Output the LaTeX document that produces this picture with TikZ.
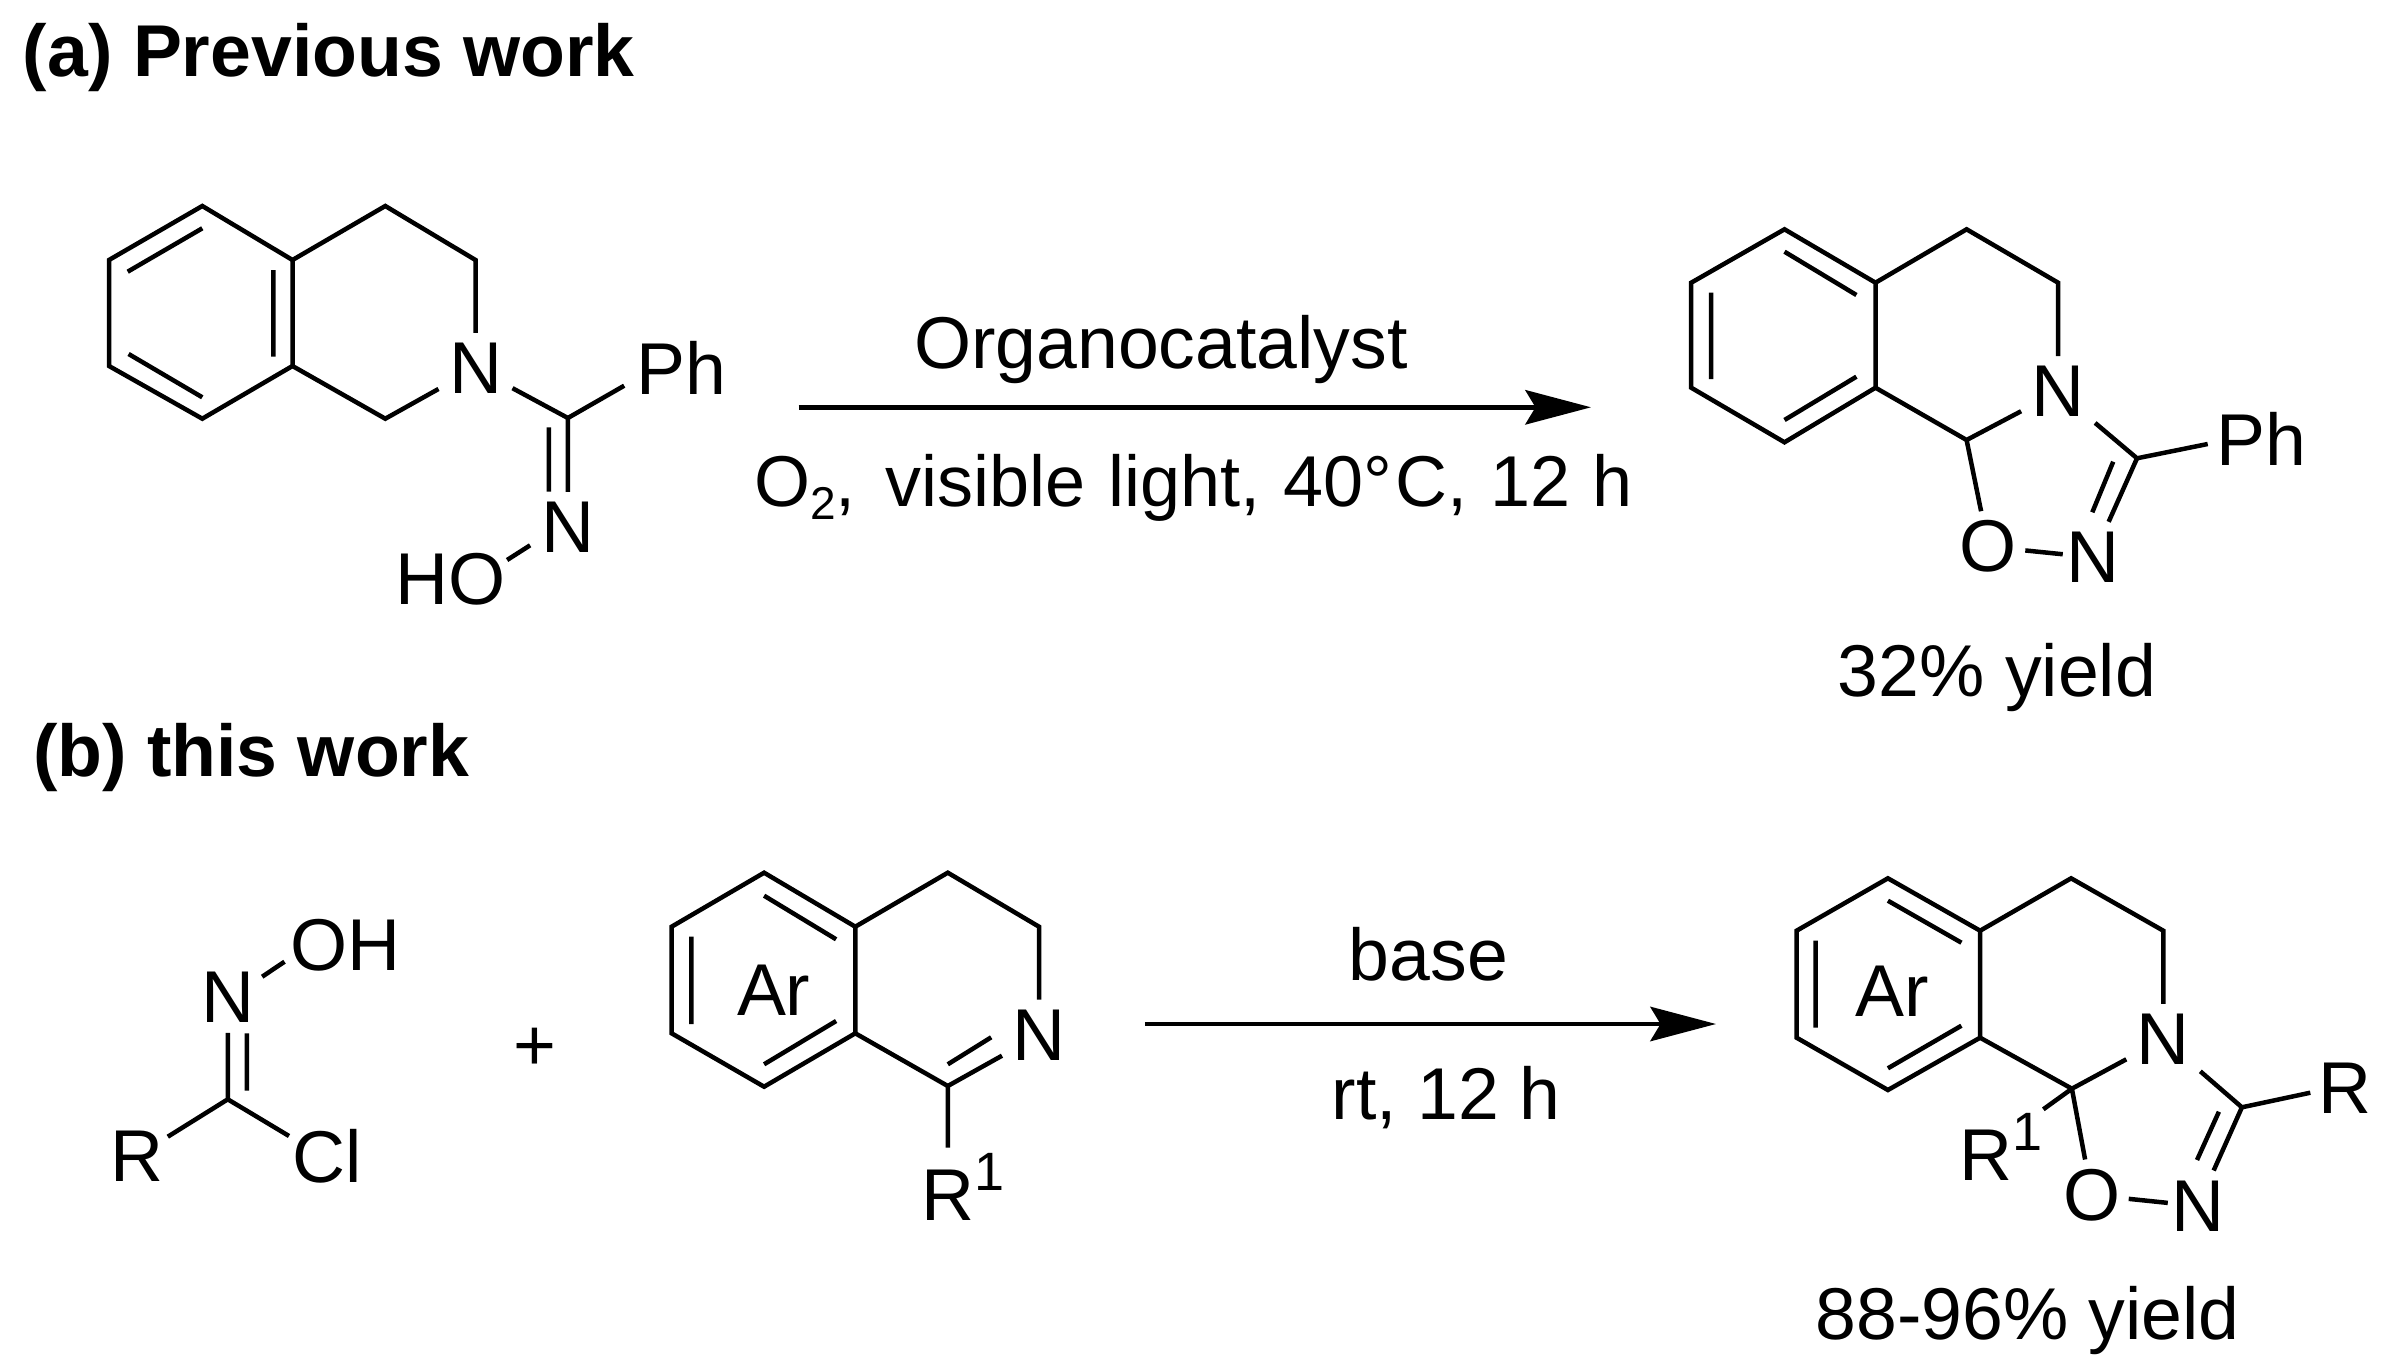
\documentclass[tikz,border=0pt]{standalone}
\usepackage{fontspec}
\setmainfont{Liberation Sans}
\usetikzlibrary{arrows.meta}
\tikzset{
  x=0.5pt,y=-0.5pt,
  bond/.style={line width=2.25pt,line join=miter,line cap=butt},
  atom/.style={inner sep=0pt,outer sep=0pt,minimum width=37pt,minimum height=35.5pt,font=\fontsize{36.7}{40}\selectfont},
  lab/.style={inner sep=0pt,outer sep=0pt,font=\fontsize{36.7}{40}\selectfont},
  head/.style={inner sep=0pt,outer sep=0pt,anchor=base west,font=\fontsize{36.7}{40}\bfseries\selectfont},
  rxn/.style={line width=2.35pt,-{Stealth[length=33pt,width=17.5pt,inset=5.3pt,line width=0pt]}},
}
\newcommand{\supone}{\raisebox{15pt}{\fontsize{27}{30}\selectfont 1}}
\begin{document}
\begin{tikzpicture}
\useasboundingbox (0,0) rectangle (2383,1370);
\fill[white] (0,0) rectangle (2383,1370);
% headings
\node[head] (ha) at (23,76.5) {(a) Previous work};
\node[head] (hb) at (33,776.7) {(b) this work};

% ---------- molecule 1
\coordinate (a1) at (202.3,206);
\coordinate (a2) at (109,260);
\coordinate (a3) at (109,366);
\coordinate (a4) at (202.3,418.7);
\coordinate (a5) at (292.5,366);
\coordinate (a6) at (292.5,260);
\coordinate (a7) at (385.3,206);
\coordinate (a8) at (475.5,260);
\coordinate (a9) at (385.3,418.7);
\coordinate (a10) at (567.9,418);
\node[atom] (an) at (475.5,368.3) {N};
\node[atom] (ann) at (567.9,527.3) {N};
\node[lab] (aph) at (681,368.3) {Ph};
\node[lab] (aho) at (450.8,579.3) {HO};
\coordinate (aphe) at (624.2,385.7);
\coordinate (ao1) at (530.1,545.3);
\coordinate (ao2) at (507.1,560);
\draw[bond] (a1)--(a2)--(a3)--(a4)--(a5)--(a6)--cycle;
\draw[bond] (a5)--(a9)--(an) (an)--(a8)--(a7)--(a6);
\draw[bond] (an)--(a10)--(aphe) (a10)--(ann) (ao1)--(ao2);
\coordinate (ai1) at (202.3,228.3); \coordinate (ai2) at (127.7,271.7);
\coordinate (ai3) at (273.4,270); \coordinate (ai4) at (273.4,356.7);
\coordinate (ai5) at (128.6,354); \coordinate (ai6) at (202.3,397.3);
\coordinate (ai7) at (548.8,427.3); \coordinate (ai8) at (548.8,491.7);
\draw[bond] (ai1)--(ai2) (ai3)--(ai4) (ai5)--(ai6) (ai7)--(ai8);

% ---------- arrow 1
\coordinate (r1s) at (798.7,407.3);
\coordinate (r1e) at (1590.9,407.3);
\draw[rxn] (r1s)--(r1e);
\node[lab,anchor=base] (t1) at (1161,368.3) {Organocatalyst};
\node[lab,anchor=base west,font=\fontsize{36}{40}\selectfont] (t2) at (754,506.7) {O\raisebox{-6.3pt}{\fontsize{23}{26}\selectfont 2}, \hspace{5pt}visible \hspace{1.5pt}light, \hspace{1.5pt}40°\hspace{1.5pt}C, \hspace{1.5pt}12 \hspace{1pt}h};

% ---------- molecule 2
\coordinate (b1) at (1784.5,229.3);
\coordinate (b2) at (1691.2,282.7);
\coordinate (b3) at (1691.2,387.7);
\coordinate (b4) at (1784.5,442.3);
\coordinate (b5) at (1875.5,387.7);
\coordinate (b6) at (1875.5,282.7);
\coordinate (b7) at (1966.6,229.3);
\coordinate (b8) at (2058.1,282.7);
\coordinate (b9) at (1966.6,440);
\coordinate (b10) at (2137,458.3);
\node[atom] (bn) at (2058.1,391.7) {N};
\node[atom] (bo) at (1988.3,546.7) {O};
\node[atom] (bnn) at (2092.8,557.3) {N};
\node[lab] (bph) at (2261,439.3) {Ph};
\coordinate (bphe) at (2207.7,444);
\draw[bond] (b1)--(b2)--(b3)--(b4)--(b5)--(b6)--cycle;
\draw[bond] (b5)--(b9)--(bn) (bn)--(b8)--(b7)--(b6);
\draw[bond] (b9)--(bo) (bn)--(b10)--(bphe) (b10)--(bnn);
\draw[bond,shorten >=-3.5pt] (bo)--(bnn);
\coordinate (bi1) at (1784.5,251.7); \coordinate (bi2) at (1856.4,295);
\coordinate (bi3) at (1711.2,292.7); \coordinate (bi4) at (1711.2,379);
\coordinate (bi5) at (1784.5,420); \coordinate (bi6) at (1856.4,376.7);
\coordinate (bi7) at (2113.2,461.7); \coordinate (bi8) at (2092.3,512.3);
\draw[bond] (bi1)--(bi2) (bi3)--(bi4) (bi5)--(bi6) (bi7)--(bi8);
\node[lab,anchor=base] (y1) at (1997,696) {32\% yield};

% ---------- molecule 3 (hydroximoyl chloride)
\coordinate (c1) at (227.8,1099.3);
\node[atom] (cn) at (227.8,997.3) {N};
\node[lab] (coh) at (345.7,945) {OH};
\node[lab] (cr) at (136.6,1156) {R};
\node[lab] (ccl) at (327.2,1156) {Cl};
\coordinate (co1) at (284.5,961.7); \coordinate (co2) at (262.2,976.7);
\coordinate (cre) at (167.8,1136.7); \coordinate (ccle) at (289,1136);
\coordinate (ci1) at (246.9,1033.3); \coordinate (ci2) at (246.9,1090.7);
\draw[bond] (c1)--(cn) (co1)--(co2) (cre)--(c1)--(ccle) (ci1)--(ci2);
\node[lab] (plus) at (534.5,1049.6) {+};

% ---------- molecule 4 (imine)
\coordinate (d1) at (764.1,872.7);
\coordinate (d2) at (671.6,926.7);
\coordinate (d3) at (671.6,1033.3);
\coordinate (d4) at (764.1,1086.7);
\coordinate (d5) at (855.3,1033.3);
\coordinate (d6) at (855.3,926.7);
\coordinate (d7) at (947.8,872.7);
\coordinate (d8) at (1039,926.7);
\coordinate (d9) at (947.8,1086);
\node[atom] (dn) at (1039,1035) {N};
\node[lab] (dar) at (773.7,990) {Ar};
\node[lab,anchor=base west] (dr) at (921.7,1220) {R\supone};
\coordinate (dre) at (947.8,1147.7);
\draw[bond] (d1)--(d2)--(d3)--(d4)--(d5)--(d6)--cycle;
\draw[bond] (d5)--(d9)--(dn) (dn)--(d8)--(d7)--(d6) (d9)--(dre);
\coordinate (di1) at (764.1,895.7); \coordinate (di2) at (836.1,939.3);
\coordinate (di3) at (691.4,936.7); \coordinate (di4) at (691.4,1024);
\coordinate (di5) at (764.1,1064.3); \coordinate (di6) at (836.1,1021);
\coordinate (di7) at (991.2,1037.3); \coordinate (di8) at (947.8,1064.3);
\draw[bond] (di1)--(di2) (di3)--(di4) (di5)--(di6) (di7)--(di8);

% ---------- arrow 2
\coordinate (r2s) at (1144.9,1024);
\coordinate (r2e) at (1715.9,1024);
\draw[rxn] (r2s)--(r2e);
\node[lab,anchor=base] (t3) at (1428.4,980.7) {base};
\node[lab,anchor=base] (t4) at (1446,1119) {rt, 12 h};

% ---------- molecule 5
\coordinate (e1) at (1887.9,878.3);
\coordinate (e2) at (1796.6,930.7);
\coordinate (e3) at (1796.6,1037.7);
\coordinate (e4) at (1887.9,1090);
\coordinate (e5) at (1980.1,1037.7);
\coordinate (e6) at (1980.1,930.7);
\coordinate (e7) at (2071.1,878.3);
\coordinate (e8) at (2163.3,930.7);
\coordinate (e9) at (2071.9,1088.7);
\coordinate (e10) at (2241.9,1107.3);
\node[atom] (en) at (2163.3,1039.3) {N};
\node[atom] (eo) at (2091.7,1195) {O};
\node[atom] (enn) at (2197.8,1206) {N};
\node[lab] (er) at (2344.8,1088.3) {R};
\node[lab] (ear) at (1892,991) {Ar};
\node[lab,anchor=base west] (erp) at (1959.7,1180) {R\supone};
\coordinate (ere) at (2310.3,1092.7);
\coordinate (erpe) at (2043.3,1109.3);
\draw[bond] (e1)--(e2)--(e3)--(e4)--(e5)--(e6)--cycle;
\draw[bond] (e5)--(e9)--(en) (en)--(e8)--(e7)--(e6);
\draw[bond] (e9)--(eo) (e9)--(erpe) (en)--(e10)--(ere) (e10)--(enn);
\draw[bond,shorten >=-3.5pt] (eo)--(enn);
\coordinate (ei1) at (1887.9,900.7); \coordinate (ei2) at (1961.4,942.7);
\coordinate (ei3) at (1815.6,940.7); \coordinate (ei4) at (1815.6,1027.7);
\coordinate (ei5) at (1887.9,1068.3); \coordinate (ei6) at (1961.4,1025.7);
\coordinate (ei7) at (2218.9,1111.7); \coordinate (ei8) at (2197,1160);
\draw[bond] (ei1)--(ei2) (ei3)--(ei4) (ei5)--(ei6) (ei7)--(ei8);
\node[lab,anchor=base] (y2) at (2027.7,1339) {88-96\% yield};
\end{tikzpicture}
\end{document}
